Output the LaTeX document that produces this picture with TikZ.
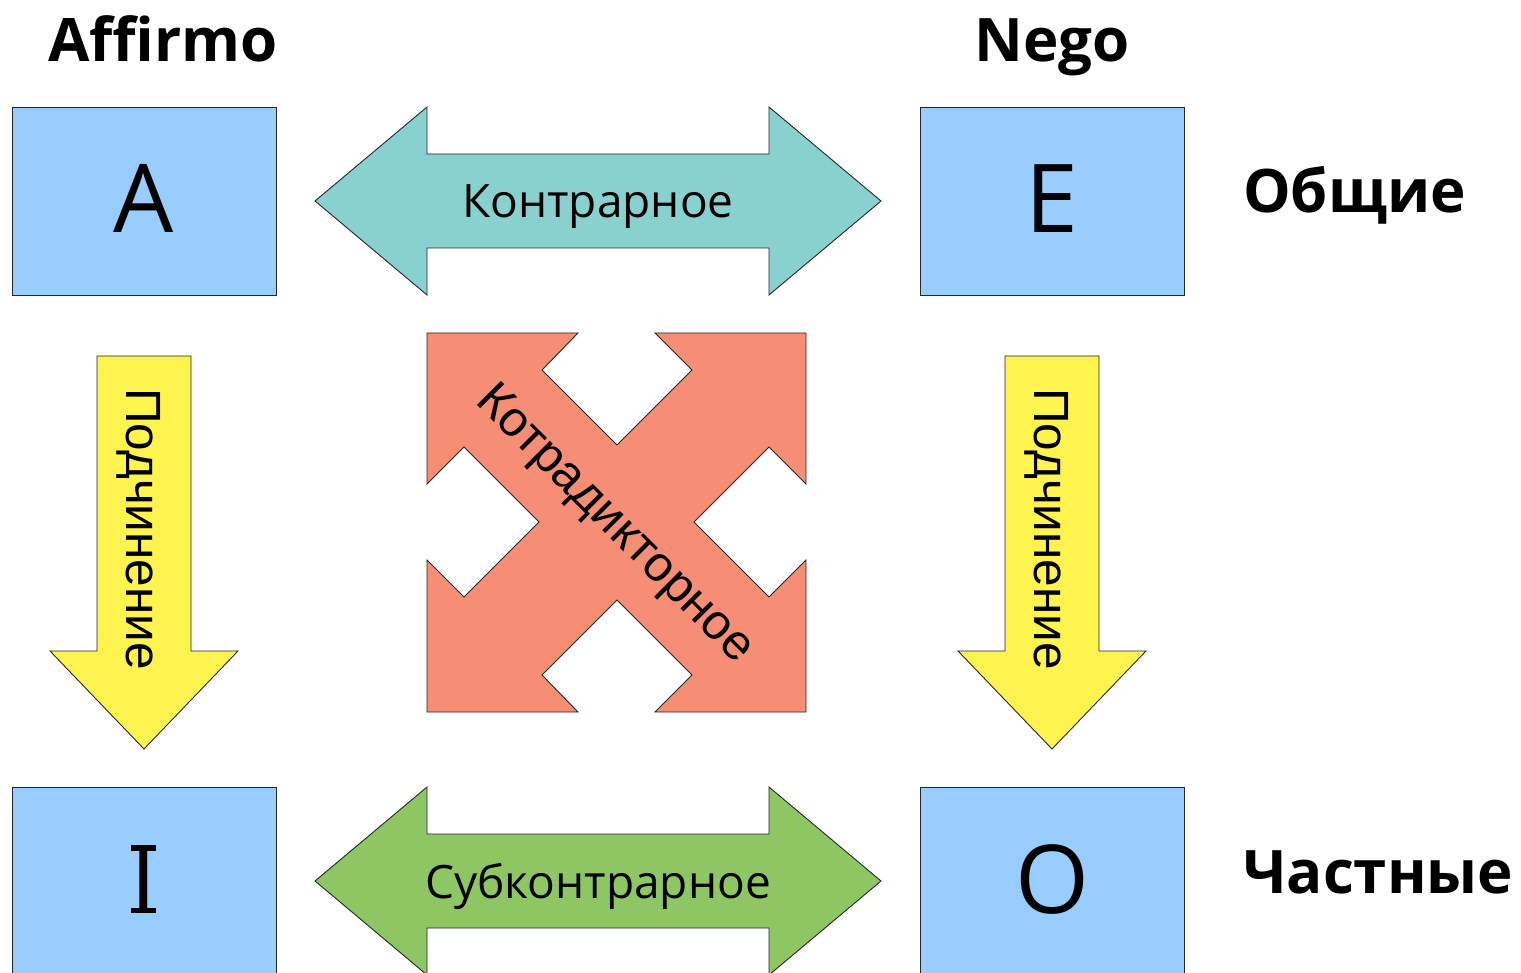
\documentclass[tikz,border=0pt]{standalone}
\usepackage{fontspec}
\setmainfont{Open Sans}
\newfontfamily\lib{Liberation Sans}
\definecolor{boxblue}{HTML}{99CCFF}
\definecolor{cyanarr}{HTML}{88D1CF}
\definecolor{greenarr}{HTML}{8DC663}
\definecolor{yellowarr}{HTML}{FFF350}
\definecolor{salmon}{HTML}{F68E76}
\begin{document}
\begin{tikzpicture}[x=1pt,y=-1pt,
  shapeline/.style={draw=black!85,line width=0.9pt,line join=miter},
  termbox/.style={shapeline,fill=boxblue,minimum width=264pt,minimum height=188pt,inner sep=0pt,anchor=north west},
  letter/.style={font=\fontsize{95}{95}\selectfont,anchor=base,inner sep=0pt},
  heading/.style={font=\fontsize{60}{60}\selectfont\bfseries,inner sep=0pt},
  arrlabel/.style={font=\fontsize{46}{46}\selectfont,anchor=base,inner sep=0pt},
  rotlabel/.style={font=\lib\fontsize{49.5}{49.5}\selectfont,inner sep=0pt}]
\useasboundingbox (0,0) rectangle (1521,973);
\begin{scope}
\clip (0,0) rectangle (1521,973);
% boxes
\node[termbox] (A) at (12,107) {};
\node[termbox] (E) at (920,107) {};
\node[termbox] (I) at (12,787) {};
\node[termbox] (O) at (920,787) {};
\node[letter] (Al) at (144,233) {A};
\node[letter] (El) at (1052,233) {E};
\node[letter] (Il) at (143.5,913) {I};
\fill ([xshift=-12.5pt]Il.base) rectangle ([xshift=12.5pt,yshift=5.5pt]Il.base);
\fill ([xshift=-12.5pt,yshift=62.5pt]Il.base) rectangle ([xshift=12.5pt,yshift=67.8pt]Il.base);
\node[letter] (Ol) at (1052,913) {O};
% headings
\node[heading,anchor=base] (aff) at (163,62) {Affirmo};
\node[heading,anchor=base] (neg) at (1052,62) {Nego};
\node[heading,anchor=base west] (gen) at (1243,213) {Общие};
\node[heading,anchor=base west] (par) at (1243,893) {Частные};
% top double arrow
\draw[shapeline,fill=cyanarr] (315,201) -- (427,107) -- (427,154) -- (769,154) -- (769,107) -- (881,201)
  -- (769,295) -- (769,248) -- (427,248) -- (427,295) -- cycle;
\node[arrlabel] (contr) at (598,218) {Контрарное};
% bottom double arrow
\draw[shapeline,fill=greenarr] (315,881) -- (427,787) -- (427,834) -- (769,834) -- (769,787) -- (881,881)
  -- (769,975) -- (769,928) -- (427,928) -- (427,975) -- cycle;
\node[arrlabel] (subc) at (598,898) {Субконтрарное};
% down arrows
\draw[shapeline,fill=yellowarr] (97,356) -- (191,356) -- (191,651) -- (238,651) -- (144,749) -- (50,651) -- (97,651) -- cycle;
\draw[shapeline,fill=yellowarr] (1005,356) -- (1099,356) -- (1099,651) -- (1146,651) -- (1052,749) -- (958,651) -- (1005,651) -- cycle;
\node[rotlabel,rotate=-90,anchor=base] (subl) at (126,529) {Подчинение};
\node[rotlabel,rotate=-90,anchor=base] (subr) at (1034,529) {Подчинение};
% X arrow
\draw[shapeline,fill=salmon] (427,333) -- (578,333) -- (542,370) -- (617,445) -- (692,370) -- (655,333)
  -- (806,333) -- (806,484) -- (769,447) -- (694,522) -- (769,597) -- (806,560)
  -- (806,712) -- (655,712) -- (692,675) -- (617,600) -- (542,675) -- (578,712)
  -- (427,712) -- (427,560) -- (464,597) -- (539,522) -- (464,447) -- (427,484) -- cycle;
\node[rotlabel,rotate=-45] (contra) at (614,525) {Котрадикторное};
\end{scope}
\end{tikzpicture}
\end{document}
